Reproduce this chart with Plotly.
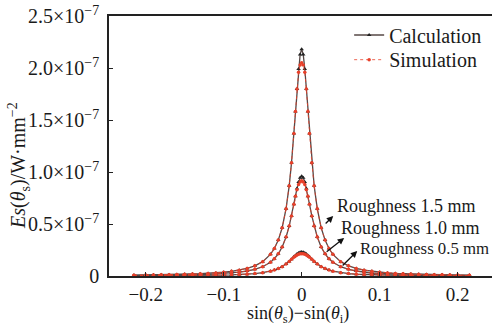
import plotly.graph_objects as go

# x values: sin(theta_s) - sin(theta_i)
sin_diff = [-0.215, -0.200, -0.190, -0.180, -0.170, -0.160, -0.150, -0.140, -0.130, -0.120,
            -0.110, -0.100, -0.090, -0.080, -0.070, -0.060, -0.050, -0.040, -0.035, -0.030,
            -0.025, -0.020, -0.016, -0.013, -0.010, -0.008, -0.006, -0.004, -0.002, 0.0,
            0.002, 0.004, 0.006, 0.008, 0.010, 0.013, 0.016, 0.020, 0.025, 0.030,
            0.035, 0.040, 0.050, 0.060, 0.070, 0.080, 0.090, 0.100, 0.110, 0.120,
            0.130, 0.140, 0.150, 0.160, 0.170, 0.180, 0.190, 0.200, 0.215]

# values in units of 1e-7 W/mm^2
calc_15 = [0.008, 0.009, 0.010, 0.011, 0.013, 0.014, 0.016, 0.019, 0.022, 0.025,
           0.030, 0.036, 0.045, 0.056, 0.073, 0.098, 0.138, 0.208, 0.264, 0.345,
           0.464, 0.647, 0.867, 1.090, 1.370, 1.581, 1.797, 1.991, 2.130, 2.180,
           2.130, 1.991, 1.797, 1.581, 1.370, 1.090, 0.867, 0.647, 0.464, 0.345,
           0.264, 0.208, 0.138, 0.098, 0.073, 0.056, 0.045, 0.036, 0.030, 0.025,
           0.022, 0.019, 0.016, 0.014, 0.013, 0.011, 0.010, 0.009, 0.008]
calc_10 = [0.005, 0.006, 0.007, 0.008, 0.008, 0.010, 0.011, 0.012, 0.014, 0.017,
           0.020, 0.024, 0.029, 0.037, 0.048, 0.064, 0.089, 0.132, 0.166, 0.213,
           0.279, 0.375, 0.480, 0.578, 0.690, 0.768, 0.842, 0.904, 0.945, 0.960,
           0.945, 0.904, 0.842, 0.768, 0.690, 0.578, 0.480, 0.375, 0.279, 0.213,
           0.166, 0.132, 0.089, 0.064, 0.048, 0.037, 0.029, 0.024, 0.020, 0.017,
           0.014, 0.012, 0.011, 0.010, 0.008, 0.008, 0.007, 0.006, 0.005]
calc_05 = [0.002, 0.002, 0.003, 0.003, 0.003, 0.004, 0.004, 0.005, 0.005, 0.006,
           0.007, 0.009, 0.011, 0.014, 0.017, 0.023, 0.032, 0.046, 0.057, 0.071,
           0.090, 0.115, 0.140, 0.162, 0.184, 0.198, 0.211, 0.221, 0.228, 0.230,
           0.228, 0.221, 0.211, 0.198, 0.184, 0.162, 0.140, 0.115, 0.090, 0.071,
           0.057, 0.046, 0.032, 0.023, 0.017, 0.014, 0.011, 0.009, 0.007, 0.006,
           0.005, 0.005, 0.004, 0.004, 0.003, 0.003, 0.003, 0.002, 0.002]

sim_15 = [0.008, 0.009, 0.010, 0.011, 0.013, 0.014, 0.016, 0.019, 0.022, 0.025,
          0.030, 0.036, 0.045, 0.056, 0.073, 0.098, 0.138, 0.208, 0.264, 0.345,
          0.464, 0.647, 0.867, 1.090, 1.370, 1.581, 1.797, 1.960, 2.030, 2.050,
          2.030, 1.960, 1.797, 1.581, 1.370, 1.090, 0.867, 0.647, 0.464, 0.345,
          0.264, 0.208, 0.138, 0.098, 0.073, 0.056, 0.045, 0.036, 0.030, 0.025,
          0.022, 0.019, 0.016, 0.014, 0.013, 0.011, 0.010, 0.009, 0.008]
sim_10 = [0.005, 0.006, 0.007, 0.008, 0.008, 0.010, 0.011, 0.012, 0.014, 0.017,
          0.020, 0.024, 0.029, 0.037, 0.048, 0.064, 0.089, 0.132, 0.166, 0.213,
          0.279, 0.375, 0.480, 0.578, 0.690, 0.768, 0.830, 0.880, 0.905, 0.915,
          0.905, 0.880, 0.830, 0.768, 0.690, 0.578, 0.480, 0.375, 0.279, 0.213,
          0.166, 0.132, 0.089, 0.064, 0.048, 0.037, 0.029, 0.024, 0.020, 0.017,
          0.014, 0.012, 0.011, 0.010, 0.008, 0.008, 0.007, 0.006, 0.005]
sim_05 = [0.002, 0.002, 0.003, 0.003, 0.003, 0.004, 0.004, 0.005, 0.005, 0.006,
          0.007, 0.009, 0.011, 0.014, 0.017, 0.023, 0.032, 0.046, 0.057, 0.071,
          0.090, 0.115, 0.140, 0.160, 0.180, 0.192, 0.202, 0.209, 0.213, 0.215,
          0.213, 0.209, 0.202, 0.192, 0.180, 0.160, 0.140, 0.115, 0.090, 0.071,
          0.057, 0.046, 0.032, 0.023, 0.017, 0.014, 0.011, 0.009, 0.007, 0.006,
          0.005, 0.005, 0.004, 0.004, 0.003, 0.003, 0.003, 0.002, 0.002]

y_tick_vals = [0, 0.5, 1.0, 1.5, 2.0, 2.5]
y_tick_text = ["0", "0.5×10<sup>−7</sup>", "1.0×10<sup>−7</sup>", "1.5×10<sup>−7</sup>",
               "2.0×10<sup>−7</sup>", "2.5×10<sup>−7</sup>"]
x_tick_vals = [-0.2, -0.1, 0, 0.1, 0.2]
x_tick_text = ["−0.2", "−0.1", "0", "0.1", "0.2"]

roughness_labels = ["Roughness 1.5 mm", "Roughness 1.0 mm", "Roughness 0.5 mm"]

SERIF = "Liberation Serif"
CALC_COLOR = "#564846"
SIM_COLOR = "#e8402a"
INK = "#1a1a1a"

fig = go.Figure()
for i, yv in enumerate([calc_15, calc_10, calc_05]):
    fig.add_trace(go.Scatter(
        x=sin_diff, y=yv, mode="lines+markers", name="Calculation",
        showlegend=(i == 0), legend="legend",
        line=dict(color=CALC_COLOR, width=1.3),
        marker=dict(symbol="triangle-up", size=4, color="#222222")))
for i, yv in enumerate([sim_15, sim_10, sim_05]):
    fig.add_trace(go.Scatter(
        x=sin_diff, y=yv, mode="lines+markers", name="Simulation",
        showlegend=(i == 0), legend="legend2",
        line=dict(color=SIM_COLOR, width=0.8, dash="dot"),
        marker=dict(symbol="circle", size=3.5, color=SIM_COLOR)))

# arrows (head near the label, tail on the curve)
arrows = [((0.0404, 0.577), (0.0288, 0.49)),
          ((0.0545, 0.365), (0.0301, 0.221)),
          ((0.0712, 0.240), (0.0506, 0.087))]
annotations = []
for (hx, hy), (tx, ty) in arrows:
    annotations.append(dict(x=hx, y=hy, ax=tx, ay=ty, xref="x", yref="y",
                            axref="x", ayref="y", text="", showarrow=True,
                            arrowhead=2, arrowsize=1, arrowwidth=1.3,
                            arrowcolor="#111111"))
label_pos = [(0.0425, 0.673, 18), (0.0475, 0.462, 18), (0.0720, 0.269, 16.8)]
for (lx, ly, fs), txt in zip(label_pos, roughness_labels):
    annotations.append(dict(x=lx, y=ly, xref="x", yref="y", text=txt,
                            showarrow=False, xanchor="left", yanchor="middle",
                            font=dict(family=SERIF, size=fs, color=INK)))
# axis titles
annotations.append(dict(x=-0.235, y=0.427, xref="paper", yref="paper",
                        text="<i>Es</i>(<i>θ</i><sub>s</sub>)/W·mm<sup>−2</sup>",
                        textangle=-90, showarrow=False, xanchor="center",
                        yanchor="middle",
                        font=dict(family=SERIF, size=20, color=INK)))
annotations.append(dict(x=0.493, y=-0.147, xref="paper", yref="paper",
                        text="sin(<i>θ</i><sub>s</sub>)−sin(<i>θ</i><sub>i</sub>)",
                        showarrow=False, xanchor="center", yanchor="middle",
                        font=dict(family=SERIF, size=18, color=INK)))

legend_common = dict(xanchor="left", yanchor="middle", bgcolor="rgba(0,0,0,0)",
                     font=dict(family=SERIF, size=20, color=INK), itemwidth=30,
                     borderwidth=0)

fig.update_layout(
    width=492, height=326,
    margin=dict(l=109, r=0, t=16, b=50),
    paper_bgcolor="white", plot_bgcolor="white",
    font=dict(family=SERIF, size=20, color=INK),
    showlegend=True,
    legend=dict(x=0.627, y=0.927, **legend_common),
    legend2=dict(x=0.627, y=0.832, **legend_common),
    annotations=annotations,
    xaxis=dict(range=[-0.247, 0.244], tickvals=x_tick_vals, ticktext=x_tick_text,
               ticks="inside", ticklen=4, tickcolor="#222222",
               showline=True, linecolor="#222222", linewidth=1.5, mirror=True,
               showgrid=False, zeroline=False,
               tickfont=dict(family=SERIF, size=19, color=INK)),
    yaxis=dict(range=[0, 2.5], tickvals=y_tick_vals, ticktext=y_tick_text,
               ticks="inside", ticklen=4, tickcolor="#222222",
               showline=True, linecolor="#222222", linewidth=1.5,
               showgrid=False, zeroline=False, ticklabelstandoff=4,
               tickfont=dict(family=SERIF, size=20, color=INK)),
)

fig.write_html("out.html")
